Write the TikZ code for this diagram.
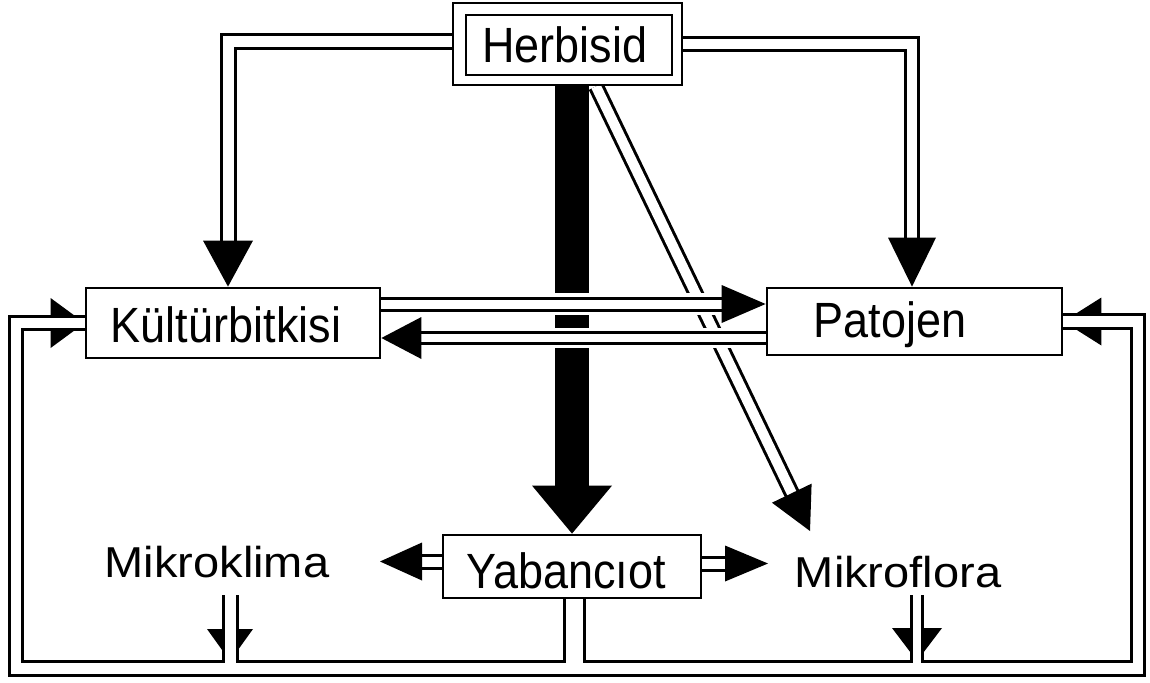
\documentclass[tikz,border=0pt]{standalone}
\usepackage{fontspec}
\setmainfont{Liberation Sans}
\usepackage{graphicx}
\usetikzlibrary{calc}
\pgfdeclarelayer{BG}\pgfdeclarelayer{LA}\pgfdeclarelayer{LB}\pgfdeclarelayer{LC}\pgfdeclarelayer{LD}\pgfdeclarelayer{LE}
\pgfsetlayers{BG,LA,LB,LC,LD,LE,main}
\newcommand\headto[4]{%
  \coordinate (hb) at ($(#1)!#3!(#2)$);
  \fill[black] (#1) -- ($(hb)!#4!90:(#1)$) -- ($(hb)!#4!-90:(#1)$) -- cycle;}
\tikzset{
  box/.style={draw, line width=2.8pt, fill=white, inner sep=0pt},
  lbl/.style={anchor=base, inner sep=0pt, font=\fontsize{45}{50}\selectfont},
  mlbl/.style={anchor=base, inner sep=0pt, font=\fontsize{47}{52}\selectfont},
  pipeblk/.style={draw=black, line width=#1, line join=miter},
  pipewht/.style={draw=white, line width=#1, line join=miter},
}
\begin{document}
\begin{tikzpicture}[x=1pt,y=-1pt]
\begin{pgfonlayer}{BG}
  \fill[white] (0,0) rectangle (1150,682);
\end{pgfonlayer}
\useasboundingbox (0,0) rectangle (1150,682);
% boxes
\node[box, minimum width=229pt, minimum height=82pt] (herb) at (567.5,44) {};
\node[box, minimum width=206pt, minimum height=60pt] (herbin) at (569,45) {};
\node[box, minimum width=294pt, minimum height=70pt] (kb) at (233,323) {};
\node[box, minimum width=295pt, minimum height=67pt] (pat) at (914.5,321.5) {};
\node[box, minimum width=258pt, minimum height=63pt] (yab) at (572,566.5) {};
% labels
\node[lbl] (herbt) at (565,63) {\scalebox{1}[1.1]{Herbisid}};
\node[lbl] (kbt) at (226,342) {\scalebox{1}[1.1]{Kültürbitkisi}};
\node[lbl] (patt) at (890,337) {\scalebox{1}[1.1]{Patojen}};
\node[lbl] (yabt) at (566,588) {\scalebox{1}[1.1]{Yabancıot}};
\node[mlbl] (mk) at (217,577) {\scalebox{1}[0.92]{Mikroklima}};
\node[mlbl] (mf) at (898,587) {\scalebox{1}[0.92]{Mikroflora}};
% helper coordinates
\coordinate (cBar) at (572,0);
\coordinate (cDg) at (596,0);
\coordinate (cDgT) at (810,531);
\coordinate (cL) at (228,42);
\coordinate (cR) at (912,44);
\coordinate (rP3) at (0,304);
\coordinate (rP4) at (0,338);
\coordinate (cYL) at (380,561.5);
\coordinate (cYR) at (768,563.5);
\coordinate (cMk) at (230,595);
\coordinate (cMkT) at (230,661);
\coordinate (cYb) at (574.5,0);
\coordinate (cMf) at (917,595);
\coordinate (cMfT) at (917,661);
\coordinate (bl) at (16,668.5);
\coordinate (br) at (1138,668.5);
% black bar and diagonal pipe
\begin{pgfonlayer}{LA}
  \draw[pipeblk=34pt] (herb.south -| cBar) -- ($(yab.north -| cBar)+(0,-46)$);
  \draw[pipeblk=16pt] (herb.south -| cDg) -- ($(cDgT)!40pt!(herb.south -| cDg)$);
\end{pgfonlayer}
\begin{pgfonlayer}{LB}
  \draw[pipewht=10pt] (herb.south -| cDg) -- ($(cDgT)!40pt!(herb.south -| cDg)$);
\end{pgfonlayer}
% halos of the horizontal pipes
\begin{pgfonlayer}{LC}
  \draw[pipewht=22pt] (kb.east |- rP3) -- ($(pat.west |- rP3)+(-43,0)$);
  \draw[pipewht=20pt] (pat.west |- rP4) -- ($(kb.east |- rP4)+(39,0)$);
\end{pgfonlayer}
% pipe outlines
\begin{pgfonlayer}{LD}
  \draw[pipeblk=17pt] (herb.west |- cL) -- (cL) -- ($(kb.north -| cL)+(0,-45)$);
  \draw[pipeblk=16pt] (herb.east |- cR) -- (cR) -- ($(pat.north -| cR)+(0,-48)$);
  \draw[pipeblk=15pt] (kb.east |- rP3) -- ($(pat.west |- rP3)+(-43,0)$);
  \draw[pipeblk=14pt] (pat.west |- rP4) -- ($(kb.east |- rP4)+(39,0)$);
  \draw[pipeblk=16pt] (yab.west |- cYL) -- ($(cYL)+(41,0)$);
  \draw[pipeblk=16pt] (yab.east |- cYR) -- ($(cYR)+(-42,0)$);
  \draw[pipeblk=16.5pt] (kb.west) -- (kb.west -| bl) -- (bl) -- (br) -- (pat.east -| br) -- (pat.east);
  \draw[pipeblk=17pt] (cMk) -- (cMk |- bl);
  \draw[pipeblk=22.5pt] (yab.south -| cYb) -- (cYb |- bl);
  \draw[pipeblk=14pt] (cMf) -- (cMf |- bl);
  \headto{kb.west}{kb.west -| bl}{34pt}{25pt}
  \headto{pat.east}{pat.east -| br}{38pt}{24pt}
  \headto{cMkT}{cMk}{32pt}{23pt}
  \headto{cMfT}{cMf}{33pt}{25pt}
\end{pgfonlayer}
% pipe channels
\begin{pgfonlayer}{LE}
  \draw[pipewht=11pt] (herb.west |- cL) -- (cL) -- ($(kb.north -| cL)+(0,-45)$);
  \draw[pipewht=10pt] (herb.east |- cR) -- (cR) -- ($(pat.north -| cR)+(0,-48)$);
  \draw[pipewht=9pt] (kb.east |- rP3) -- ($(pat.west |- rP3)+(-43,0)$);
  \draw[pipewht=8pt] (pat.west |- rP4) -- ($(kb.east |- rP4)+(39,0)$);
  \draw[pipewht=10pt] (yab.west |- cYL) -- ($(cYL)+(41,0)$);
  \draw[pipewht=10pt] (yab.east |- cYR) -- ($(cYR)+(-42,0)$);
  \draw[pipewht=10.5pt] (kb.west) -- (kb.west -| bl) -- (bl) -- (br) -- (pat.east -| br) -- (pat.east);
  \draw[pipewht=11pt] (cMk) -- (cMk |- bl);
  \draw[pipewht=16.5pt] (yab.south -| cYb) -- (cYb |- bl);
  \draw[pipewht=8pt] (cMf) -- (cMf |- bl);
\end{pgfonlayer}
% solid arrowheads
\headto{yab.north -| cBar}{herb.south -| cBar}{48pt}{40pt}
\headto{cDgT}{herb.south -| cDg}{42pt}{22pt}
\headto{kb.north -| cL}{cL}{46pt}{25pt}
\headto{pat.north -| cR}{cR}{49pt}{24pt}
\headto{pat.west |- rP3}{kb.east |- rP3}{44pt}{19pt}
\headto{kb.east |- rP4}{pat.west |- rP4}{40pt}{21pt}
\headto{cYL}{yab.west |- cYL}{42pt}{19pt}
\headto{cYR}{yab.east |- cYR}{43pt}{18pt}
\end{tikzpicture}
\end{document}
